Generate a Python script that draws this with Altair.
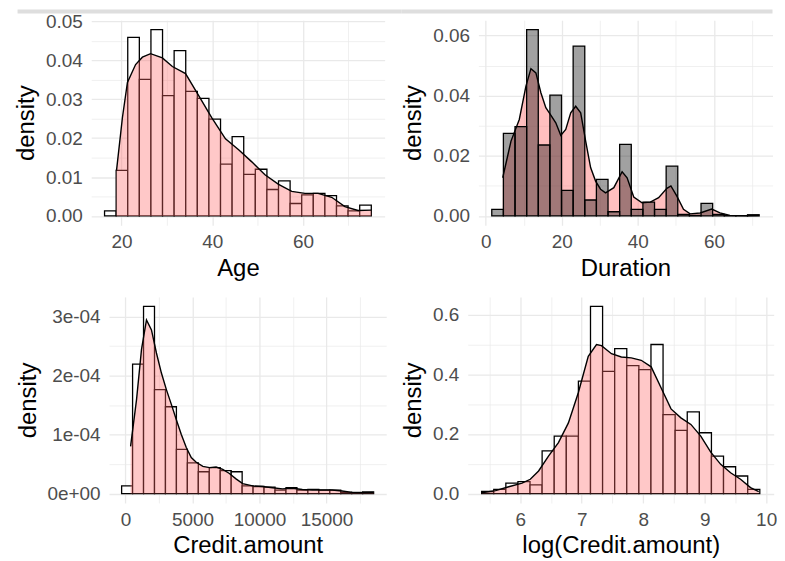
import json
import altair as alt
import pandas as pd

# ---------------- values ----------------
# Age
age_bin_start = 16.26
age_bin_width = 2.555
age_hist = [0.0013, 0.0117, 0.0459, 0.0351, 0.0479, 0.0309, 0.0425, 0.0320, 0.0302, 0.0249,
            0.0133, 0.0204, 0.0107, 0.0120, 0.0068, 0.0090, 0.0032, 0.0054, 0.0058, 0.0052,
            0.0026, 0.0013, 0.0028]
age_kde_x = [18.9, 20.2, 21.3, 23.1, 24.6, 26.4, 29.0, 31.2, 34.1, 37.0, 39.9, 42.9, 45.8,
             48.7, 51.6, 54.6, 57.5, 60.4, 63.3, 66.3, 69.2, 72.1, 75.0]
age_kde_y = [0.0117, 0.0253, 0.0343, 0.0389, 0.0408, 0.0417, 0.0406, 0.0384, 0.0366, 0.0309,
             0.0252, 0.0198, 0.0170, 0.0139, 0.0106, 0.0081, 0.0063, 0.0058, 0.0058, 0.0048,
             0.0024, 0.0014, 0.0015]
age_x_major = [20, 40, 60]
age_x_labels = ["20", "40", "60"]
age_x_minor = [30, 50, 70]
age_y_major = [0, 0.01, 0.02, 0.03, 0.04, 0.05]
age_y_labels = ["0.00", "0.01", "0.02", "0.03", "0.04", "0.05"]
age_y_minor = [0.005, 0.015, 0.025, 0.035, 0.045]

# Duration
dur_bin_start = 1.57
dur_bin_width = 3.058
dur_hist = [0.0022, 0.0275, 0.0297, 0.0620, 0.0236, 0.0402, 0.0085, 0.0565, 0.0053, 0.0122,
            0.0014, 0.0238, 0.0022, 0.0046, 0.0022, 0.0166, 0.0005, 0.0002, 0.0042, 0.0005,
            0.0001, 0.0001, 0.0004]
dur_kde_x = [4.45, 6.63, 8.81, 10.56, 11.87, 13.18, 14.49, 15.79, 17.1, 18.41, 19.72, 21.03,
             22.34, 23.65, 24.96, 26.27, 27.57, 28.88, 30.19, 31.5, 33.68, 35.86, 37.17, 38.92,
             41.1, 43.28, 45.46, 47.64, 48.69, 50.26, 52.0, 53.75, 56.37, 59.42, 61.6, 64.22,
             68.59, 71.9]
dur_kde_y = [0.0127, 0.0249, 0.0321, 0.0432, 0.0490, 0.0476, 0.0410, 0.0360, 0.0335, 0.0310,
             0.0268, 0.0288, 0.0343, 0.0365, 0.0343, 0.0249, 0.0161, 0.0116, 0.0089, 0.0077,
             0.0094, 0.0147, 0.0127, 0.0063, 0.0044, 0.0046, 0.0061, 0.0092, 0.0100, 0.0066,
             0.0022, 0.0007, 0.0010, 0.0023, 0.0010, 0.0002, 0.0001, 0.0002]
dur_x_major = [0, 20, 40, 60]
dur_x_labels = ["0", "20", "40", "60"]
dur_x_minor = [10, 30, 50, 70]
dur_y_major = [0, 0.02, 0.04, 0.06]
dur_y_labels = ["0.00", "0.02", "0.04", "0.06"]
dur_y_minor = [0.01, 0.03, 0.05]

# Credit.amount
cred_bin_start = -284
cred_bin_width = 817.1
cred_hist = [0.13e-4, 2.19e-4, 3.17e-4, 1.76e-4, 1.47e-4, 0.75e-4, 0.52e-4, 0.37e-4, 0.44e-4,
             0.39e-4, 0.37e-4, 0.13e-4, 0.12e-4, 0.11e-4, 0.06e-4, 0.10e-4, 0.06e-4, 0.07e-4,
             0.06e-4, 0.06e-4, 0.02e-4, 0.02e-4, 0.03e-4]
cred_kde_x = [383, 828, 1199, 1570, 1941, 2312, 2683, 3054, 3425, 3796, 4167, 4538, 4909, 5280,
              5774, 6269, 6763, 7258, 7752, 8247, 8741, 9483, 10225, 10967, 11708, 12450,
              13192, 13934, 14676, 15418, 16160, 16902, 17643, 18509]
cred_kde_y = [0.80e-4, 1.59e-4, 2.44e-4, 2.94e-4, 2.77e-4, 2.38e-4, 2.04e-4, 1.76e-4, 1.51e-4,
              1.25e-4, 1.00e-4, 0.78e-4, 0.61e-4, 0.53e-4, 0.46e-4, 0.44e-4, 0.45e-4, 0.41e-4,
              0.34e-4, 0.25e-4, 0.17e-4, 0.13e-4, 0.12e-4, 0.10e-4, 0.08e-4, 0.09e-4, 0.07e-4,
              0.06e-4, 0.06e-4, 0.06e-4, 0.045e-4, 0.02e-4, 0.017e-4, 0.02e-4]
cred_x_major = [0, 5000, 10000, 15000]
cred_x_labels = ["0", "5000", "10000", "15000"]
cred_x_minor = [2500, 7500, 12500, 17500]
cred_y_major = [0, 1e-4, 2e-4, 3e-4]
cred_y_labels = ["0e+00", "1e-04", "2e-04", "3e-04"]
cred_y_minor = [0.5e-4, 1.5e-4, 2.5e-4]

# log(Credit.amount)
log_bin_start = 5.373
log_bin_width = 0.1967
log_hist = [0.007, 0.0145, 0.035, 0.040, 0.029, 0.143, 0.193, 0.193, 0.377, 0.628, 0.410,
            0.486, 0.429, 0.416, 0.500, 0.265, 0.212, 0.274, 0.204, 0.126, 0.090, 0.059, 0.0145]
log_kde_x = [5.373, 5.599, 5.814, 6.03, 6.164, 6.299, 6.46, 6.622, 6.784, 6.945, 7.107, 7.241,
             7.322, 7.484, 7.645, 7.807, 7.968, 8.13, 8.291, 8.453, 8.614, 8.776, 8.937, 9.099,
             9.261, 9.422, 9.584, 9.746, 9.88]
log_kde_y = [0.003, 0.010, 0.023, 0.035, 0.048, 0.076, 0.126, 0.171, 0.237, 0.338, 0.460, 0.500,
             0.496, 0.469, 0.458, 0.455, 0.447, 0.425, 0.355, 0.284, 0.254, 0.232, 0.193, 0.139,
             0.098, 0.070, 0.048, 0.020, 0.007]
log_x_major = [6, 7, 8, 9, 10]
log_x_labels = ["6", "7", "8", "9", "10"]
log_x_minor = [5.5, 6.5, 7.5, 8.5, 9.5]
log_y_major = [0, 0.2, 0.4, 0.6]
log_y_labels = ["0.0", "0.2", "0.4", "0.6"]
log_y_minor = [0.1, 0.3, 0.5]

PINK = "#FF6666"
FONT = "Liberation Sans"
BAND_COLOR = "#dedede"


def make_axis(title, major, labels, minor, offset=None):
    mj = json.dumps(major)
    lb = json.dumps(labels)
    test = f"indexof({mj}, datum.value) >= 0"
    kw = dict(
        title=title,
        values=sorted(major + minor),
        labelExpr=f"{test} ? {lb}[indexof({mj}, datum.value)] : ''",
        gridWidth={"condition": {"test": test, "value": 1.3}, "value": 0.7},
    )
    if offset is not None:
        kw["offset"] = offset
    return alt.Axis(**kw)


def panel(bin_start, bin_width, hist, kde_x, kde_y, xtitle, xmaj, xlab, xmin,
          ymaj, ylab, ymin, w, h, grey_bars=False, shift=0.0, bands=()):
    n = len(hist)
    lo = [bin_start + i * bin_width for i in range(n)]
    hist_df = pd.DataFrame({"lo": lo, "hi": [v + bin_width for v in lo], "d": hist,
                            "z": [0.0] * n})
    kde_df = pd.DataFrame({"x": kde_x, "y": kde_y, "z": [0.0] * len(kde_x)})
    x_lo, x_hi = bin_start, bin_start + n * bin_width
    xr = x_hi - x_lo
    xdom = [x_lo - 0.05 * xr, x_hi + 0.05 * xr]
    ymax = max(max(hist), max(kde_y))
    ydom = [-0.05 * ymax, 1.05 * ymax]
    if shift:
        xs = alt.Scale(domain=xdom, nice=False, zero=False, range=[shift, shift + w])
    else:
        xs = alt.Scale(domain=xdom, nice=False, zero=False)
    ys = alt.Scale(domain=ydom, nice=False, zero=False)
    xa = make_axis(xtitle, xmaj, xlab, xmin)
    ya = make_axis("density", ymaj, ylab, ymin, offset=(-shift if shift else None))

    if grey_bars:
        bars = alt.Chart(hist_df).mark_rect(
            fill="black", fillOpacity=0.37, stroke="black", strokeWidth=1.3)
        area_alpha = 0.42
    else:
        bars = alt.Chart(hist_df).mark_rect(fill="white", stroke="black", strokeWidth=1.3)
        area_alpha = 0.36
    bars = bars.encode(
        x=alt.X("lo:Q", scale=xs, axis=xa), x2="hi:Q",
        y=alt.Y("d:Q", scale=ys, axis=ya), y2="z:Q")
    area = alt.Chart(kde_df).mark_area(color=PINK, opacity=area_alpha).encode(
        x=alt.X("x:Q", scale=xs, axis=xa),
        y=alt.Y("y:Q", scale=ys, axis=ya), y2="z:Q")
    line = alt.Chart(kde_df).mark_line(color="black", strokeWidth=1.4).encode(
        x=alt.X("x:Q", scale=xs, axis=xa),
        y=alt.Y("y:Q", scale=ys, axis=ya))
    layers = [area, bars, line] if grey_bars else [bars, area, line]
    for (bx1, bx2) in bands:
        layers.append(
            alt.Chart(pd.DataFrame({"k": [0]})).mark_rect(fill=BAND_COLOR).encode(
                x=alt.value(bx1), x2=alt.value(bx2), y=alt.value(-10.7), y2=alt.value(-6.7)))
    return alt.layer(*layers).properties(width=w + shift, height=h)


TL_W, TR_W, BL_W, BR_W = 294.8, 295.5, 278.5, 307.4
ROW1_H, ROW2_H = 206, 207
BL_SHIFT = 17.9

tl = panel(age_bin_start, age_bin_width, age_hist, age_kde_x, age_kde_y, "Age",
           age_x_major, age_x_labels, age_x_minor, age_y_major, age_y_labels, age_y_minor,
           TL_W, ROW1_H, bands=[(-74, TL_W + 17.2)])
tr = panel(dur_bin_start, dur_bin_width, dur_hist, dur_kde_x, dur_kde_y, "Duration",
           dur_x_major, dur_x_labels, dur_x_minor, dur_y_major, dur_y_labels, dur_y_minor,
           TR_W, ROW1_H, grey_bars=True, bands=[(-77, TR_W)])
bl = panel(cred_bin_start, cred_bin_width, cred_hist, cred_kde_x, cred_kde_y, "Credit.amount",
           cred_x_major, cred_x_labels, cred_x_minor, cred_y_major, cred_y_labels, cred_y_minor,
           BL_W, ROW2_H, shift=BL_SHIFT)
br = panel(log_bin_start, log_bin_width, log_hist, log_kde_x, log_kde_y, "log(Credit.amount)",
           log_x_major, log_x_labels, log_x_minor, log_y_major, log_y_labels, log_y_minor,
           BR_W, ROW2_H)

row1 = alt.hconcat(tl, tr, spacing=0)
row2 = alt.hconcat(bl, br, spacing=14.3)

chart = (
    alt.vconcat(row1, row2, spacing=17)
    .properties(padding={"left": 6.6, "top": 0, "right": 0, "bottom": 0})
    .configure_view(stroke=None)
    .configure_axis(
        labelFont=FONT, labelFontSize=19, labelColor="#4d4d4d",
        titleFont=FONT, titleFontSize=24, titleFontWeight="normal", titleColor="black",
        domain=False, ticks=False, tickSize=0, gridColor="#e9e9e9",
        labelFlush=False, labelOverlap=False, labelBound=False,
    )
    .configure_axisX(labelPadding=7.5, titlePadding=4.5)
    .configure_axisY(labelPadding=9, titlePadding=7)
)

chart.save("out.html", embed_options={"renderer": "svg", "actions": False})
